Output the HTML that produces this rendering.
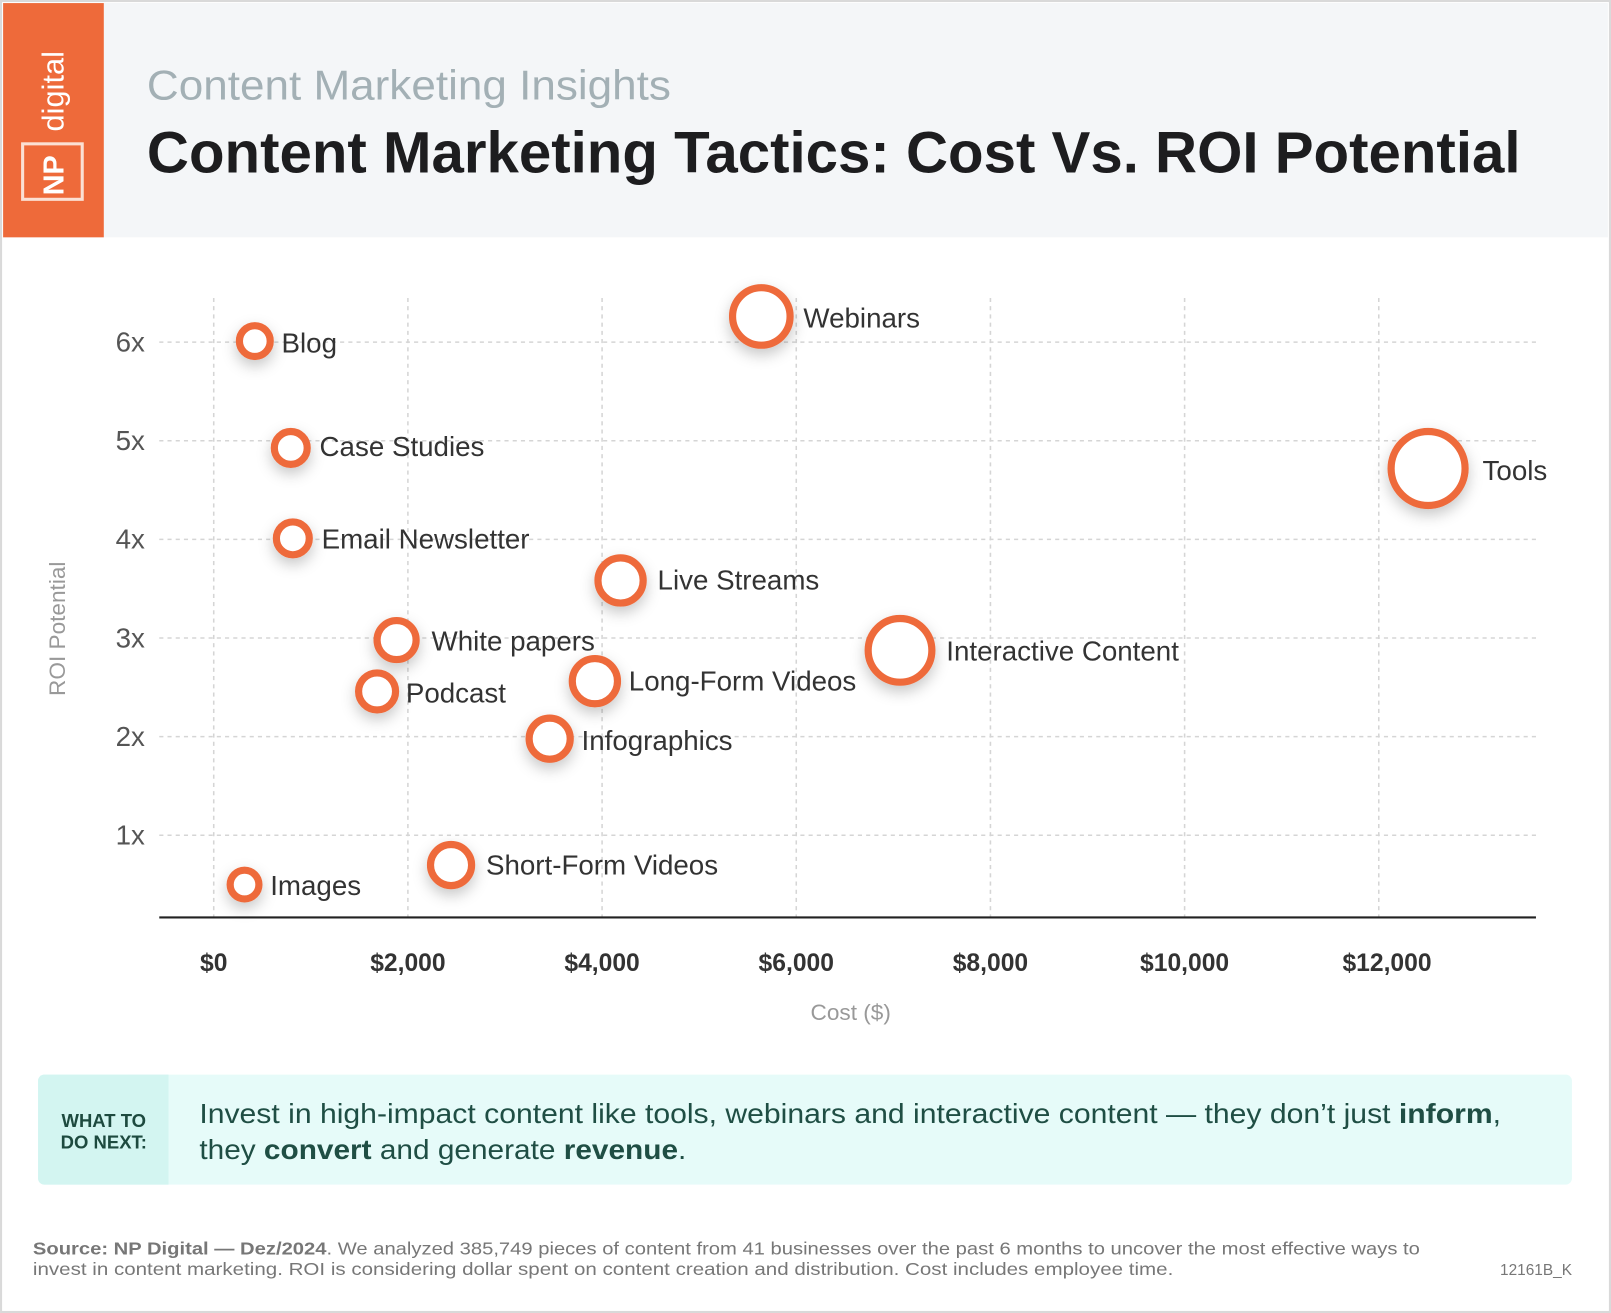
<!DOCTYPE html>
<html><head><meta charset="utf-8"><style>
html,body{margin:0;padding:0;background:#fff}
svg{display:block}
text{font-family:"Liberation Sans",sans-serif}
</style></head><body>
<svg width="1611" height="1313" viewBox="0 0 1568 1278" xmlns="http://www.w3.org/2000/svg">
<defs>
<filter id="sh" x="-80%" y="-80%" width="260%" height="260%"><feDropShadow dx="0" dy="6" stdDeviation="7" flood-color="#000" flood-opacity="0.22"/></filter>
</defs>
<rect x="0" y="0" width="1568" height="1278" fill="#fff"/>
<rect x="1" y="1" width="1566" height="1276" fill="none" stroke="#d9d9d9" stroke-width="2"/>
<rect x="3" y="3" width="1562" height="228" fill="#f4f6f8"/>
<rect x="3" y="3" width="98" height="228" fill="#ee6a3a"/>
<rect x="22" y="140" width="58" height="54" fill="none" stroke="#fbe0d4" stroke-width="3"/>
<text transform="translate(62,190) rotate(-90)" font-size="28" font-weight="bold" fill="#fff">NP</text>
<text transform="translate(62,128) rotate(-90)" font-size="30" fill="#fff">digital</text>
<text x="143" y="97" font-size="41" fill="#a3b0b5" textLength="510" lengthAdjust="spacingAndGlyphs">Content Marketing Insights</text>
<text x="143" y="168" font-size="57" font-weight="bold" fill="#1d1d1f" textLength="1337" lengthAdjust="spacingAndGlyphs">Content Marketing Tactics: Cost Vs. ROI Potential</text>

<g stroke="#d5d5d5" stroke-width="1.5" stroke-dasharray="4,4">
<line x1="208" y1="290" x2="208" y2="893"/><line x1="397" y1="290" x2="397" y2="893"/><line x1="586" y1="290" x2="586" y2="893"/><line x1="775" y1="290" x2="775" y2="893"/><line x1="964" y1="290" x2="964" y2="893"/><line x1="1153" y1="290" x2="1153" y2="893"/><line x1="1342" y1="290" x2="1342" y2="893"/>
<line x1="155" y1="333" x2="1495" y2="333"/><line x1="155" y1="429" x2="1495" y2="429"/><line x1="155" y1="525" x2="1495" y2="525"/><line x1="155" y1="621" x2="1495" y2="621"/><line x1="155" y1="717" x2="1495" y2="717"/><line x1="155" y1="813" x2="1495" y2="813"/>
</g>
<line x1="155" y1="893" x2="1495" y2="893" stroke="#222" stroke-width="2"/>
<g font-size="27" fill="#555" text-anchor="end">
<text x="141" y="342">6x</text><text x="141" y="438">5x</text><text x="141" y="534">4x</text><text x="141" y="630">3x</text><text x="141" y="726">2x</text><text x="141" y="822">1x</text>
</g>
<g font-size="24" font-weight="bold" fill="#333" text-anchor="middle">
<text x="208" y="945">$0</text><text x="397" y="945">$2,000</text><text x="586" y="945">$4,000</text><text x="775" y="945">$6,000</text><text x="964" y="945">$8,000</text><text x="1153" y="945">$10,000</text><text x="1350" y="945">$12,000</text>
</g>
<text transform="translate(63,612) rotate(-90)" font-size="22" fill="#999" text-anchor="middle">ROI Potential</text>
<text x="828" y="993" font-size="22" fill="#999" text-anchor="middle">Cost ($)</text>

<g fill="#fff" stroke="#ee6a3a" stroke-width="7" filter="url(#sh)">
<circle cx="248" cy="332" r="15"/><circle cx="741" cy="308" r="28"/><circle cx="283" cy="436" r="16"/><circle cx="1390" cy="456" r="36"/><circle cx="285" cy="524" r="16"/><circle cx="604" cy="565" r="22"/><circle cx="386" cy="623" r="19"/><circle cx="876" cy="633" r="31"/><circle cx="367" cy="673" r="18"/><circle cx="579" cy="663" r="22"/><circle cx="535" cy="719" r="20"/><circle cx="439" cy="842" r="20"/><circle cx="238" cy="861" r="14"/>
</g>
<g font-size="27" fill="#333">
<text x="274" y="343">Blog</text><text x="782" y="319">Webinars</text><text x="311" y="444">Case Studies</text><text x="1443" y="467">Tools</text><text x="313" y="534">Email Newsletter</text><text x="640" y="574">Live Streams</text><text x="420" y="633">White papers</text><text x="921" y="643">Interactive Content</text><text x="395" y="684">Podcast</text><text x="612" y="672">Long-Form Videos</text><text x="566" y="730">Infographics</text><text x="473" y="851">Short-Form Videos</text><text x="263" y="871">Images</text>
</g>

<rect x="37" y="1046" width="1493" height="107" rx="6" fill="#e6fbf9"/>
<path d="M43 1046 H164 V1153 H43 a6 6 0 0 1 -6 -6 V1052 a6 6 0 0 1 6 -6z" fill="#d3f5f1"/>
<g font-size="18" font-weight="bold" fill="#1d4a3f" text-anchor="middle"><text x="101" y="1097">WHAT TO</text><text x="101" y="1118">DO NEXT:</text></g>
<g font-size="27" fill="#1f4e44">
<text x="194" y="1093" textLength="1267" lengthAdjust="spacingAndGlyphs">Invest in high-impact content like tools, webinars and interactive content — they don’t just <tspan font-weight="bold">inform</tspan>,</text>
<text x="194" y="1128" textLength="474" lengthAdjust="spacingAndGlyphs">they <tspan font-weight="bold">convert</tspan> and generate <tspan font-weight="bold">revenue</tspan>.</text>
</g>
<g font-size="17" fill="#777">
<text x="32" y="1221" textLength="1350" lengthAdjust="spacingAndGlyphs"><tspan font-weight="bold">Source:  NP Digital — Dez/2024</tspan>. We analyzed 385,749 pieces of content from 41 businesses over the past 6 months to uncover the most effective ways to</text>
<text x="32" y="1241" textLength="1110" lengthAdjust="spacingAndGlyphs">invest in content marketing. ROI is considering dollar spent on content creation and distribution. Cost includes employee time.</text>
<text x="1460" y="1241" font-size="15">12161B_K</text>
</g>
</svg>
</body></html>
